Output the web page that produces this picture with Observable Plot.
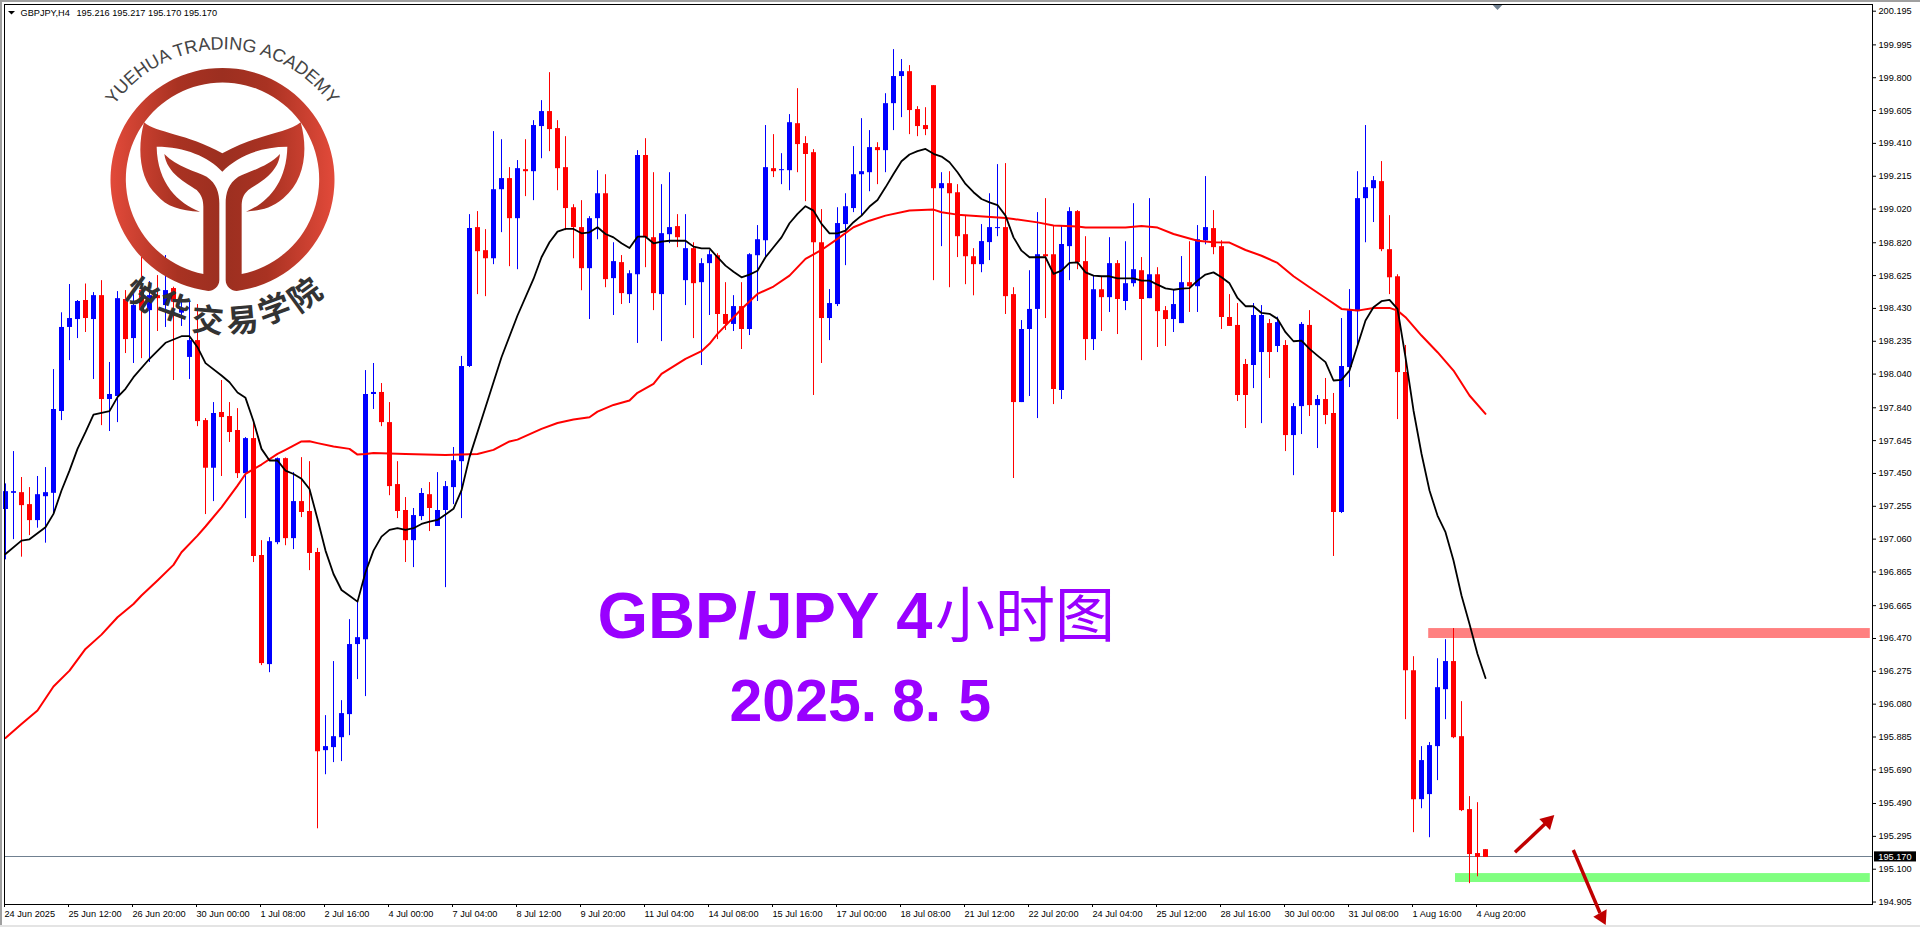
<!DOCTYPE html>
<html>
<head>
<meta charset="utf-8">
<script src="https://cdn.jsdelivr.net/npm/d3@7"></script>
<script src="https://cdn.jsdelivr.net/npm/@observablehq/plot@0.6"></script>
<style>
html,body{margin:0;padding:0;background:#fff;width:1920px;height:927px;overflow:hidden;position:relative}
svg{display:block}
.over{position:absolute;left:0;top:0;pointer-events:none;overflow:visible}
.edge{position:absolute;background:#a0a0a0}
</style>
</head>
<body>
<div class="edge" style="left:0;top:0;width:1920px;height:2px"></div>
<div class="edge" style="left:0;top:0;width:2px;height:927px"></div>
<div class="edge" style="left:0;top:925px;width:1920px;height:2px;background:#e4e4e4"></div>
<div id="chart"></div>
<script>
const highs = [
197.388,197.580,197.426,197.366,197.432,197.485,198.067,198.404,198.572,198.477,
198.575,198.524,198.595,198.109,198.530,198.536,198.536,198.734,198.589,198.625,
198.744,198.556,198.487,198.471,198.453,197.776,197.871,198.002,197.871,197.835,
197.663,197.764,197.051,197.069,197.542,197.542,197.455,197.544,197.520,197.005,
196.012,196.333,196.101,196.582,196.695,198.061,198.103,197.984,197.871,197.520,
197.307,197.242,197.360,197.396,197.455,197.402,197.604,198.145,198.987,199.005,
198.898,199.480,199.432,199.266,199.308,199.432,199.545,199.664,199.830,199.545,
199.450,199.046,199.070,198.975,199.248,199.224,198.820,198.744,198.654,199.367,
199.438,199.236,199.165,199.236,198.987,198.987,198.820,198.725,198.773,198.755,
198.583,198.506,198.583,198.755,198.922,199.516,199.462,199.349,199.581,199.735,
199.450,199.373,199.017,198.542,199.028,199.111,199.391,199.557,199.486,199.414,
199.705,199.967,199.908,199.872,199.628,199.622,199.753,199.236,199.242,199.165,
198.981,198.785,198.928,199.111,199.284,199.290,198.553,198.358,198.654,198.999,
199.082,198.922,198.916,199.028,199.011,198.856,198.625,198.619,198.850,198.714,
198.826,199.052,198.732,199.082,198.672,198.441,198.542,198.738,198.826,198.922,
199.213,199.011,198.832,198.512,198.459,198.127,198.459,198.447,198.364,198.378,
198.239,197.865,198.346,198.417,197.913,198.014,197.925,198.370,198.542,199.242,
199.516,199.213,199.302,198.981,198.630,198.210,196.362,195.828,195.852,196.350,
196.463,196.529,196.095,195.531,195.495,195.217];
const lows = [
196.937,197.057,196.953,197.081,197.125,197.036,197.210,197.764,198.120,198.251,
198.287,198.008,197.734,197.699,197.752,198.162,198.103,198.132,198.109,198.293,
198.317,198.002,198.323,198.008,197.728,197.206,197.283,197.432,197.634,197.420,
197.182,196.921,196.309,196.267,197.027,197.021,196.998,197.188,196.873,195.340,
195.661,195.733,195.739,195.893,196.226,196.125,197.830,197.728,197.318,197.182,
196.921,196.891,197.170,197.105,197.135,196.772,197.265,197.182,198.079,198.512,
198.500,198.690,198.880,198.678,198.660,199.094,199.070,199.319,199.361,199.129,
198.892,198.725,198.535,198.364,198.838,198.553,198.388,198.453,198.459,198.222,
198.672,198.417,198.233,198.815,198.791,198.447,198.251,198.091,198.388,198.245,
198.299,198.293,198.186,198.269,198.471,198.733,199.207,199.165,199.129,199.236,
199.064,197.913,198.103,198.239,198.441,198.684,198.999,198.981,199.123,199.165,
199.236,199.486,199.563,199.462,199.450,199.456,198.595,198.797,198.553,198.732,
198.571,198.505,198.642,198.714,198.856,198.394,197.420,197.871,197.907,197.776,
198.370,197.859,197.889,198.595,198.660,198.120,198.180,198.293,198.406,198.275,
198.417,198.557,198.120,198.488,198.198,198.204,198.287,198.340,198.406,198.406,
198.808,198.749,198.305,198.323,197.877,197.717,197.954,197.746,198.014,198.168,
197.580,197.437,197.681,197.788,197.598,197.740,196.957,197.212,197.960,198.210,
198.820,198.940,198.767,198.512,197.770,195.988,195.317,195.459,195.287,195.626,
195.988,195.875,195.442,195.014,195.055,195.170];
const bodyTop = [
197.342,197.342,197.336,197.265,197.324,197.336,197.830,198.317,198.370,198.471,
198.477,198.506,198.506,197.919,198.488,198.483,198.447,198.536,198.506,198.506,
198.536,198.548,198.427,198.239,198.239,197.764,197.806,197.812,197.788,197.705,
197.657,197.657,196.963,197.045,197.538,197.538,197.283,197.283,197.224,196.981,
195.828,195.887,196.024,196.434,196.475,197.919,197.931,197.931,197.752,197.384,
197.230,197.200,197.331,197.324,197.230,197.372,197.526,198.085,198.904,198.910,
198.773,199.135,199.201,199.201,199.260,199.254,199.516,199.599,199.599,199.498,
199.266,199.028,198.910,198.963,199.111,199.111,198.708,198.702,198.636,199.338,
199.338,198.850,198.874,198.910,198.916,198.785,198.785,198.696,198.749,198.743,
198.394,198.441,198.441,198.749,198.838,199.266,199.260,199.254,199.533,199.527,
199.409,199.355,198.820,198.459,198.934,199.034,199.224,199.242,199.385,199.385,
199.646,199.807,199.836,199.836,199.611,199.516,199.753,199.171,199.171,199.117,
198.868,198.737,198.827,198.910,198.910,198.910,198.512,198.305,198.424,198.749,
198.749,198.749,198.809,199.005,199.005,198.708,198.541,198.541,198.696,198.696,
198.577,198.660,198.654,198.630,198.630,198.417,198.453,198.583,198.583,198.838,
198.910,198.904,198.797,198.376,198.329,198.097,198.388,198.388,198.340,198.346,
198.210,197.847,198.335,198.329,197.889,197.889,197.806,198.085,198.417,199.082,
199.147,199.189,199.183,198.779,198.618,198.049,196.279,195.745,195.834,196.178,
196.333,196.333,195.887,195.454,195.193,195.216];
const bodyBottom = [
197.236,197.332,197.259,197.170,197.170,197.312,197.332,197.818,198.317,198.364,
198.370,198.364,197.889,197.889,197.907,198.245,198.251,198.417,198.417,198.488,
198.447,198.467,198.402,198.139,197.758,197.481,197.481,197.782,197.693,197.449,
197.449,196.957,196.321,196.315,197.039,197.063,197.063,197.218,196.975,195.798,
195.804,195.822,195.881,196.018,196.434,196.463,197.919,197.752,197.372,197.224,
197.051,197.051,197.194,197.242,197.135,197.230,197.366,197.520,198.085,198.767,
198.725,198.725,199.135,198.963,198.963,199.242,199.242,199.510,199.492,199.260,
199.023,198.910,198.666,198.666,198.963,198.601,198.607,198.518,198.512,198.630,
198.850,198.518,198.512,198.868,198.850,198.595,198.577,198.583,198.696,198.394,
198.335,198.335,198.305,198.305,198.743,198.832,199.242,199.248,199.248,199.403,
199.344,198.820,198.370,198.370,198.453,198.928,199.023,199.224,199.236,199.367,
199.367,199.646,199.807,199.605,199.510,199.492,199.141,199.141,199.111,198.856,
198.737,198.690,198.690,198.821,198.904,198.500,197.871,197.871,198.305,198.424,
198.737,197.949,197.943,198.797,198.702,198.245,198.245,198.494,198.494,198.483,
198.471,198.577,198.483,198.488,198.411,198.364,198.364,198.340,198.559,198.559,
198.832,198.791,198.376,198.323,197.913,197.913,198.091,198.168,198.168,198.204,
197.675,197.675,197.847,197.853,197.853,197.794,197.218,197.218,198.079,198.411,
199.082,199.141,198.779,198.612,198.049,196.279,195.513,195.513,195.543,195.828,
196.166,195.881,195.448,195.187,195.170,195.170];
const direction = (
"uudduuuuuu"+"duduududud"+"uduudduddd"+"udduududdd"+"uuuuuuuddd"+
"duuduuuuud"+"duududuudd"+"ddduududuu"+"dduududuud"+"duduuuduud"+
"ddduuuuuud"+"uuuddddudd"+"dduuudduuu"+"dduuddudud"+"uududduudu"+
"uddddduudu"+"duududduuu"+"uuddddduuu"+"uddddd").split("");

const blackIdx = [0,2,3,5,6,7,8,9,10,11,13,14,15,16,18,20,22,23,24,25,27,28,29,30,31,32,33,34,35,36,37,38,39,40,41,42,43,44,45,46,47,48,49,50,51,52,53,54,55,56,57,58,60,62,64,66,67,68,69,70,71,72,73,74,75,76,77,78,79,80,81,82,83,85,86,87,88,89,90,91,92,93,94,95,96,97,98,99,100,101,102,103,104,105,106,107,108,109,110,111,112,113,114,115,116,117,118,119,120,121,122,123,124,125,126,127,128,129,130,131,132,133,134,135,136,137,138,139,140,141,142,143,144,145,146,147,148,149,150,151,152,153,154,155,156,157,158,159,160,161,162,163,164,165,166,167,168,169,170,171,172,173,174,175,176,177,178,179,180,181,182,183,184,185];
const blackMA = [196.972,197.051,197.059,197.131,197.210,197.349,197.467,197.596,197.695,197.800,197.820,197.903,197.953,198.022,198.131,198.226,198.265,198.265,198.200,198.105,198.032,197.992,197.931,197.899,197.760,197.596,197.527,197.527,197.467,197.447,197.418,197.358,197.180,196.992,196.853,196.758,196.724,196.689,196.863,196.992,197.075,197.115,197.125,197.115,197.125,197.150,197.164,197.174,197.206,197.240,197.349,197.547,197.843,198.140,198.388,198.605,198.734,198.823,198.886,198.902,198.902,198.876,198.882,198.912,198.872,198.852,198.817,198.789,198.856,198.856,198.817,198.827,198.832,198.832,198.797,198.787,198.787,198.734,198.684,198.648,198.615,198.631,198.654,198.734,198.793,198.852,198.936,198.991,199.037,199.011,198.932,198.876,198.876,198.892,198.942,198.981,199.035,199.074,199.149,199.228,199.304,199.344,199.364,199.377,199.348,199.332,199.298,199.239,199.169,199.120,199.080,199.060,199.044,198.981,198.852,198.773,198.734,198.734,198.734,198.635,198.654,198.700,198.704,198.644,198.625,198.621,198.621,198.609,198.609,198.609,198.595,198.595,198.571,198.549,198.541,198.547,198.551,198.595,198.631,198.644,198.615,198.579,198.492,198.443,198.443,198.403,198.398,198.368,198.289,198.235,198.239,198.190,198.150,198.111,198.002,198.006,198.061,198.210,198.358,198.437,198.473,198.481,198.427,198.140,197.824,197.567,197.349,197.200,197.101,196.933,196.725,196.556,196.378,196.235];

const redIdx = [0,2,4,6,8,10,12,14,16,17,19,21,22,24,25,27,29,30,32,34,35,37,38,39,41,43,44,45,46,50,55,59,61,63,64,67,69,71,73,74,76,78,79,81,82,83,85,87,88,89,90,92,94,96,98,100,102,104,106,108,110,113,116,117,119,125,126,129,131,134,135,140,142,144,146,149,151,153,155,157,159,161,163,165,167,169,171,173,174,175,177,179,181,183,185];
const redMA = [195.879,195.962,196.042,196.185,196.279,196.408,196.493,196.596,196.675,196.725,196.814,196.907,196.982,197.081,197.135,197.249,197.378,197.447,197.503,197.566,197.590,197.640,197.641,197.630,197.610,197.596,197.562,197.566,197.572,197.566,197.560,197.566,197.590,197.640,197.651,197.715,197.750,197.770,197.784,197.817,197.857,197.883,197.929,197.982,198.041,198.071,198.131,198.176,198.220,198.279,198.328,198.427,198.516,198.560,198.625,198.724,198.777,198.843,198.912,198.951,198.981,199.011,199.017,199.001,198.987,198.967,198.961,198.941,198.922,198.916,198.910,198.910,198.920,198.910,198.872,198.832,198.823,198.821,198.777,198.743,198.700,198.621,198.556,198.492,198.427,198.417,198.433,198.433,198.417,198.378,198.269,198.170,198.061,197.913,197.804];

const priceTicks = [200.195,199.995,199.800,199.605,199.410,199.215,199.020,198.820,198.625,198.430,198.235,198.040,197.840,197.645,197.450,197.255,197.060,196.865,196.665,196.470,196.275,196.080,195.885,195.690,195.490,195.295,195.100,194.905];
const timeLabels = ["24 Jun 2025","25 Jun 12:00","26 Jun 20:00","30 Jun 00:00","1 Jul 08:00","2 Jul 16:00","4 Jul 00:00","7 Jul 04:00","8 Jul 12:00","9 Jul 20:00","11 Jul 04:00","14 Jul 08:00","15 Jul 16:00","17 Jul 00:00","18 Jul 08:00","21 Jul 12:00","22 Jul 20:00","24 Jul 04:00","25 Jul 12:00","28 Jul 16:00","30 Jul 00:00","31 Jul 08:00","1 Aug 16:00","4 Aug 20:00"];
const timeIdx = timeLabels.map((_, i) => i * 8);
const lastPrice = 195.170;

const candles = highs.map((h, i) => ({i, high: h, low: lows[i], top: bodyTop[i], bottom: bodyBottom[i], up: direction[i] === "u"}));
const blackLine = blackIdx.map((i, n) => ({i, v: blackMA[n]}));
const redLine = redIdx.map((i, n) => ({i, v: redMA[n]}));
const BLUE = "#0000ff", RED = "#ff0000", PURPLE = "#9900ff";
const LAT = "Liberation Sans, Arial, sans-serif";

const plot = Plot.plot({
  width: 1920, height: 927,
  marginLeft: 4, marginRight: 48, marginTop: 4, marginBottom: 23,
  style: {background: "transparent", fontFamily: LAT, fontSize: "9.2px", color: "#000", overflow: "visible"},
  x: {domain: [-0.125, 233.375], axis: null},
  y: {domain: [194.8904, 200.2348], axis: null},
  marks: [
    Plot.rect([0], {x1: 177.9, x2: 233.1, y1: 196.470, y2: 196.529, fill: "#ff8080"}),
    Plot.rect([0], {x1: 181.25, x2: 233.1, y1: 195.021, y2: 195.074, fill: "#80ff80"}),
    Plot.ruleY([lastPrice], {stroke: "#708090", strokeWidth: 1, dy: -0.9}),
    Plot.ruleX(candles, {x: "i", y1: "low", y2: "high", stroke: d => d.up ? BLUE : RED, strokeWidth: 1}),
    Plot.ruleX(candles, {x: "i", y1: "bottom", y2: "top", stroke: d => d.up ? BLUE : RED, strokeWidth: 5}),
    Plot.line(redLine, {x: "i", y: "v", stroke: RED, strokeWidth: 2, curve: "linear"}),
    Plot.line(blackLine, {x: "i", y: "v", stroke: "#000", strokeWidth: 1.8, curve: "linear"}),
    Plot.frame({stroke: "#000", strokeWidth: 1}),
    Plot.axisY(priceTicks, {anchor: "right", tickSize: 3, tickPadding: 3, tickFormat: d => d.toFixed(3), label: null, stroke: "#000", fill: "#000"}),
    Plot.axisX(timeIdx, {anchor: "bottom", tickSize: 3, tickPadding: 3, tickFormat: d => timeLabels[d / 8], textAnchor: "start", label: null, stroke: "#000", fill: "#000", dx: -1}),
    Plot.rect([0], {x1: 233.625, x2: 238.875, y1: 195.143, y2: 195.203, fill: "#000"}),
    Plot.text(["195.170"], {x: 234.1, y: 195.173, text: d => d, fill: "#fff", textAnchor: "start", lineAnchor: "middle"}),
    Plot.text(["GBPJPY,H4"], {x: 1.875, y: 200.165, text: d => d, fill: "#000", textAnchor: "start", lineAnchor: "bottom"}),
    Plot.text(["195.216 195.217 195.170 195.170"], {x: 8.875, y: 200.165, text: d => d, fill: "#000", textAnchor: "start", lineAnchor: "bottom"}),
    Plot.text(["GBP/JPY 4"], {x: 74.0, y: 196.470, text: d => d, fill: PURPLE, fontSize: 65, fontWeight: 700, textAnchor: "start", lineAnchor: "bottom"}),
    Plot.text(["小时图"], {x: 116.2, y: 196.476, text: d => d, fill: PURPLE, fontSize: 60, fontFamily: "Noto Sans CJK SC", textAnchor: "start", lineAnchor: "bottom"}),
    Plot.text(["2025."], {x: 90.5, y: 195.979, text: d => d, fill: PURPLE, fontSize: 59, fontWeight: 700, textAnchor: "start", lineAnchor: "bottom"}),
    Plot.text(["8."], {x: 110.8, y: 195.979, text: d => d, fill: PURPLE, fontSize: 59, fontWeight: 700, textAnchor: "start", lineAnchor: "bottom"}),
    Plot.text(["5"], {x: 119.1, y: 195.979, text: d => d, fill: PURPLE, fontSize: 59, fontWeight: 700, textAnchor: "start", lineAnchor: "bottom"})
  ]
});
document.getElementById("chart").appendChild(plot);

const chars = [["悦",405,912,36],["华",510,955,20],["交",620,995,5],["易",730,995,-5],["学",835,960,-20],["院",935,912,-36]];
const ns = "http://www.w3.org/2000/svg";
const logo = document.createElementNS(ns, "svg");
logo.setAttribute("class", "over");
logo.setAttribute("width", 480);
logo.setAttribute("height", 460);
logo.setAttribute("viewBox", "0 0 1440 1380");
logo.innerHTML = `
<defs>
<linearGradient id="g" gradientUnits="userSpaceOnUse" x1="331" y1="0" x2="1003" y2="0">
<stop offset="0" stop-color="#e24a3a"/><stop offset=".3" stop-color="#a93222"/><stop offset=".5" stop-color="#9c2f20"/><stop offset=".7" stop-color="#a93222"/><stop offset="1" stop-color="#e24a3a"/>
</linearGradient>
<path id="arc" d="M 270 545 A 397 397 0 0 1 1064 545"/>
</defs>
<path fill="url(#g)" d="M625,873 A336,336 0 1 1 710,873 C695,873 677,860 677,840 L677,610 C677,580 685,550 715,530 C745,515 805,500 840,462 C835,520 775,550 745,570 C728,585 725,600 725,620 L725,822 A290,290 0 1 0 610,822 L610,620 C610,600 605,585 590,570 C560,550 500,520 493,462 C530,500 590,515 620,530 C650,550 658,580 658,610 L658,840 C658,860 640,873 625,873 Z"/>
<path fill="url(#g)" d="M432,367 C470,400 560,400 667,460 C775,400 865,400 902,367 C925,450 915,540 850,595 C810,630 770,632 738,635 C800,610 860,550 862,440 C780,440 710,470 667,515 C625,470 555,440 470,440 C472,550 535,610 600,635 C540,632 500,620 470,585 C420,540 410,450 432,367 Z"/>
<text font-family="${LAT}" font-size="54" fill="#444"><textPath href="#arc" startOffset="50%" text-anchor="middle">YUEHUA TRADING ACADEMY</textPath></text>
${chars.map(c => `<text x="0" y="0" transform="translate(${c[1]},${c[2]}) rotate(${c[3]})" text-anchor="middle" font-family="Noto Sans CJK SC" font-weight="700" font-size="96" fill="#333">${c[0]}</text>`).join("")}`;
document.body.appendChild(logo);

const notes = document.createElementNS(ns, "svg");
notes.setAttribute("class", "over");
notes.setAttribute("width", 1920);
notes.setAttribute("height", 927);
notes.innerHTML = `
<polygon points="8,11 15,11 11.5,14.5" fill="#000"/>
<polygon points="1492.7,5 1502.3,5 1497.5,10" fill="#708090"/>
<line x1="1515" y1="852.3" x2="1546" y2="823" stroke="#c00000" stroke-width="3.4"/>
<polygon points="1554.3,815 1539.3,819 1550,830" fill="#c00000"/>
<line x1="1573.3" y1="850" x2="1600" y2="913" stroke="#c00000" stroke-width="3.4"/>
<polygon points="1605.7,925 1593.3,916.7 1606.7,909.3" fill="#c00000"/>`;
document.body.appendChild(notes);
</script>
</body>
</html>
